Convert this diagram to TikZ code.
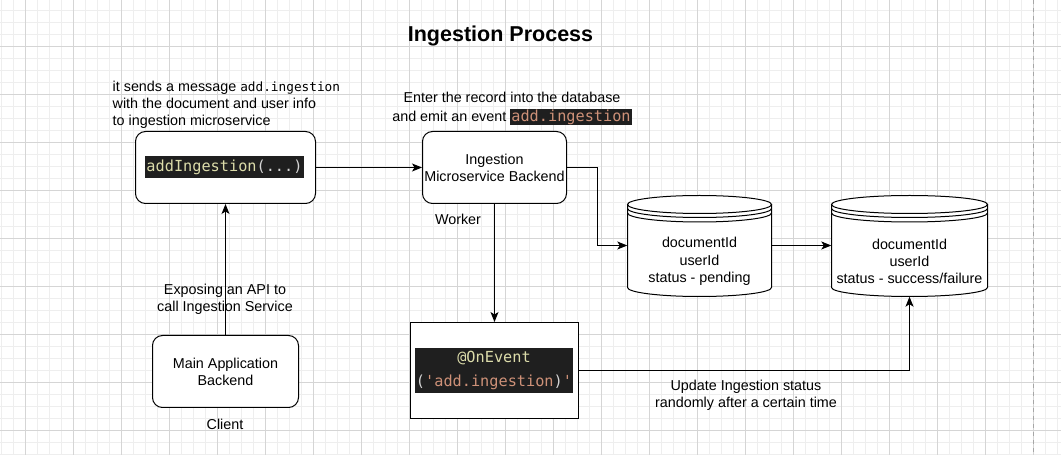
\documentclass[tikz,border=0pt]{standalone}
\usepackage{fontspec}
\setmainfont{Liberation Sans}
\setmonofont{DejaVu Sans Mono}
\usetikzlibrary{arrows.meta}
\definecolor{codebg}{HTML}{1F1F1F}
\definecolor{codeyel}{HTML}{DCDCAA}
\definecolor{codegray}{HTML}{D4D4D4}
\definecolor{codeorg}{HTML}{CE9178}
\definecolor{gridminor}{HTML}{EEEEEE}
\definecolor{gridmajor}{HTML}{D5D5D5}
\newcommand{\codefont}{\ttfamily\fontsize{15.3}{24}\selectfont}
\begin{document}
\begin{tikzpicture}[x=1bp,y=-1bp,
  txt/.style={font=\fontsize{14.4}{17.3}\selectfont, align=center, inner sep=0pt},
  box/.style={draw, fill=white, line width=1bp, rounded corners=10bp, inner sep=0pt},
  sqbox/.style={draw, fill=white, line width=1bp, inner sep=0pt},
  codeblk/.style={fill=codebg, font=\codefont, inner xsep=1bp, inner ysep=0pt, align=center},
  conn/.style={line width=1bp, -{Stealth[length=10bp,width=8bp,inset=2.5bp]}},
  dbline/.style={line width=1bp}]
\useasboundingbox (0,0) rectangle (1061,455);
\fill[white] (0,0) rectangle (1061,455);
% grid
\foreach \gx in {1.5,13.5,...,1061} \draw[gridminor, line width=1bp] (\gx,0) -- (\gx,455);
\foreach \gy in {10.5,22.5,...,455} \draw[gridminor, line width=1bp] (0,\gy) -- (1061,\gy);
\foreach \gx in {25.5,73.5,...,1061} \draw[gridmajor, line width=1bp] (\gx,0) -- (\gx,455);
\foreach \gy in {46.5,94.5,...,455} \draw[gridmajor, line width=1bp] (0,\gy) -- (1061,\gy);
\draw[gray!70, line width=1bp, dash pattern=on 4bp off 4bp] (1033.5,0) -- (1033.5,455);

% title
\node[font=\bfseries\fontsize{21.6}{26}\selectfont, inner sep=0pt] (title) at (500.5,36) {Ingestion Process};

% top-left note
\node[txt, align=left, anchor=west] (sendTxt) at (112.5,105)
  {it sends a message {\ttfamily\fontsize{12.8}{17.3}\selectfont add.ingestion}\\with the document and user info\\to ingestion microservice};

% addIngestion box
\node[box, minimum width=180bp, minimum height=72bp] (addIng) at (225.5,167.5) {};
\node[codeblk, minimum height=22bp] (addIngCode) at (224.5,167.5)
  {\textcolor{codeyel}{addIngestion}\textcolor{codegray}{(...)}};

% ingestion microservice
\node[txt] (enterTxt) at (512,109)
  {Enter the record into the database\\[1pt] and emit an event {\setlength{\fboxsep}{1pt}\colorbox{codebg}{\ttfamily\fontsize{15.3}{17}\selectfont\textcolor{codeorg}{add.ingestion}}}};
\node[box, txt, minimum width=144bp, minimum height=72bp] (ing) at (494.5,167.5) {Ingestion\\Microservice Backend};
\node[txt] (worker) at (458,219) {Worker};

% main app
\node[box, txt, minimum width=146bp, minimum height=72bp] (main) at (225.5,371.5) {Main Application\\Backend};
\node[txt] (client) at (225,424) {Client};
\node[txt] (exposeTxt) at (225,299) {Exposing an API to\\call Ingestion Service};

% OnEvent
\node[sqbox, minimum width=168bp, minimum height=96bp] (onevent) at (494.5,370.5) {};
\node[codeblk, minimum width=158bp, minimum height=45bp, inner xsep=0pt] (onCode) at (494,370.5)
  {\textcolor{codeyel}{@OnEvent}\\\textcolor{codegray}{(}\textcolor{codeorg}{'add.ingestion}\textcolor{codegray}{)}\textcolor{codeorg}{'}};

% DB1 cylinder
\draw[dbline, fill=white] (627.5,204.5) -- (627.5,287.5) arc[start angle=180, end angle=0, x radius=72, y radius=9] -- (771.5,204.5) -- cycle;
\draw[dbline, fill=white] (699.5,204.5) ellipse [x radius=72, y radius=9];
\draw[dbline] (627.5,208.5) arc[start angle=180, end angle=0, x radius=72, y radius=9];
\draw[dbline] (627.5,213) arc[start angle=180, end angle=0, x radius=72, y radius=9];
\node[txt, minimum width=144bp, minimum height=70bp] (db1) at (699.5,261.5) {documentId\\userId\\status - pending};

% DB2 cylinder
\draw[dbline, fill=white] (831.5,204.5) -- (831.5,287.5) arc[start angle=180, end angle=0, x radius=78, y radius=9] -- (987.5,204.5) -- cycle;
\draw[dbline, fill=white] (909.5,204.5) ellipse [x radius=78, y radius=9];
\draw[dbline] (831.5,208.5) arc[start angle=180, end angle=0, x radius=78, y radius=9];
\draw[dbline] (831.5,213) arc[start angle=180, end angle=0, x radius=78, y radius=9];
\node[txt, minimum width=156bp, minimum height=70bp] (db2) at (909.5,261.5) {documentId\\userId\\status - success/failure};

\node[txt] (updTxt) at (746,395) {Update Ingestion status\\randomly after a certain time};

% connectors
\draw[conn] (addIng.east) -- (ing.west);
\draw[conn] (main.north) -- (main.north |- addIng.south);
\draw[conn] (ing.south) -- (ing.south |- onevent.north);
\draw[conn] (ing.east) -- ++(30,0) |- ([yshift=16bp]db1.west);
\draw[conn] ([yshift=16bp]db1.east) -- ([yshift=16bp]db2.west);
\draw[conn] (onevent.east) -| (db2.south);
\end{tikzpicture}
\end{document}
